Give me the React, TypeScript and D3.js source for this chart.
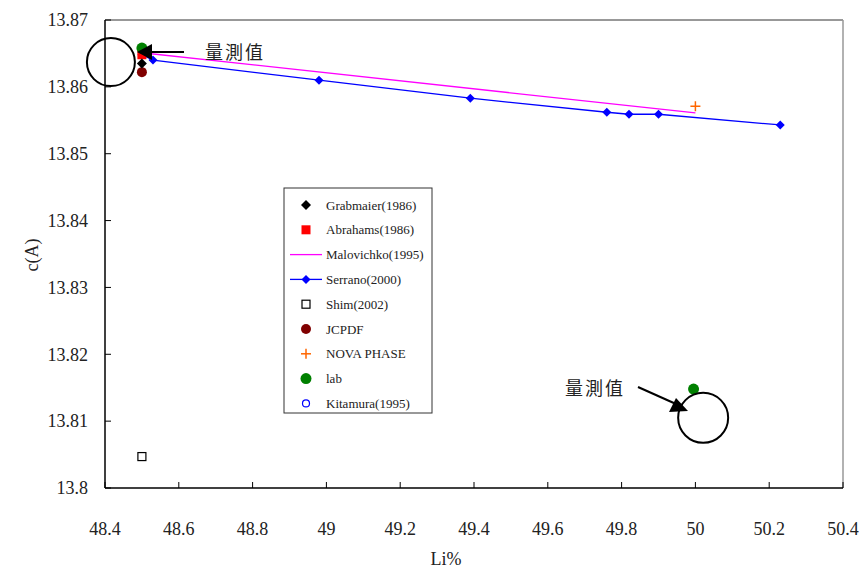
import React from "react";
import * as d3 from "d3";

// Li% vs c(A) lattice parameter
const grabmaier = [{ x: 48.5, y: 13.8635 }];
const abrahams = [{ x: 48.5, y: 13.8648 }];
const malovichko = [{ x: 48.5, y: 13.8651 }, { x: 50.0, y: 13.8561 }];
const serrano = [
  { x: 48.5, y: 13.8648 },
  { x: 48.53, y: 13.864 },
  { x: 48.98, y: 13.861 },
  { x: 49.39, y: 13.8583 },
  { x: 49.76, y: 13.8562 },
  { x: 49.82, y: 13.8559 },
  { x: 49.9, y: 13.8559 },
  { x: 50.23, y: 13.8543 },
];
const shim = [{ x: 48.5, y: 13.8047 }];
const jcpdf = [{ x: 48.5, y: 13.8622 }];
const novaPhase = [{ x: 50.0, y: 13.8571 }];
const lab = [{ x: 48.5, y: 13.8658 }, { x: 49.995, y: 13.8148 }];
const kitamura: { x: number; y: number }[] = [];

const xTicks = [48.4, 48.6, 48.8, 49, 49.2, 49.4, 49.6, 49.8, 50, 50.2, 50.4];
const yTicks = [13.8, 13.81, 13.82, 13.83, 13.84, 13.85, 13.86, 13.87];

const legendNames = [
  "Grabmaier(1986)", "Abrahams(1986)", "Malovichko(1995)", "Serrano(2000)",
  "Shim(2002)", "JCPDF", "NOVA PHASE", "lab", "Kitamura(1995)",
];

const W = 861, H = 569;
const left = 105, right = 843, top = 20, bottom = 488;
const serif = { fontFamily: "\"Liberation Serif\", \"DejaVu Serif\", serif" };
const cjk = { fontFamily: "\"Noto Sans CJK TC\", sans-serif" };

function Marker({ kind, x, y }: { kind: string; x: number; y: number }) {
  switch (kind) {
    case "diamondBlack":
      return <path d={`M${x},${y - 5}L${x + 5},${y}L${x},${y + 5}L${x - 5},${y}Z`} fill="#000" />;
    case "diamondBlue":
      return <path d={`M${x},${y - 4.5}L${x + 4.5},${y}L${x},${y + 4.5}L${x - 4.5},${y}Z`} fill="#0000ff" />;
    case "squareRed":
      return <rect x={x - 4.5} y={y - 4.5} width={9} height={9} fill="#ff0000" />;
    case "squareOpen":
      return <rect x={x - 4} y={y - 4} width={8} height={8} fill="#fff" stroke="#000" strokeWidth={1.2} />;
    case "circleDark":
      return <circle cx={x} cy={y} r={5} fill="#800000" />;
    case "circleGreen":
      return <circle cx={x} cy={y} r={5.5} fill="#008000" />;
    case "circleOpen":
      return <circle cx={x} cy={y} r={3.5} fill="#fff" stroke="#0000ff" strokeWidth={1.2} />;
    case "plus":
      return (
        <g stroke="#ff6600" strokeWidth={1.5}>
          <line x1={x - 5} x2={x + 5} y1={y} y2={y} />
          <line x1={x} x2={x} y1={y - 5} y2={y + 5} />
        </g>
      );
    default:
      return null;
  }
}

export default function App() {
  const x = d3.scaleLinear().domain([48.4, 50.4]).range([left, right]);
  const y = d3.scaleLinear().domain([13.8, 13.87]).range([bottom, top]);
  const line = d3.line<{ x: number; y: number }>().x(d => x(d.x)).y(d => y(d.y));

  const legendKinds = [
    "diamondBlack", "squareRed", "lineMagenta", "lineBlue", "squareOpen",
    "circleDark", "plus", "circleGreen", "circleOpen",
  ];

  // annotation anchors (data units)
  const c1 = { x: 48.416, y: 13.8637 };
  const c2 = { x: 50.021, y: 13.8105 };

  const lx = 284, ly = 188;

  return (
    <svg width={W} height={H} style={{ position: "absolute", left: 0, top: 0, background: "#fff" }}>
      {/* frame */}
      <line x1={left} x2={right} y1={top} y2={top} stroke="#333" strokeWidth={1} />
      <line x1={right} x2={right} y1={top} y2={bottom} stroke="#999" strokeWidth={1.5} />
      {/* axes */}
      <line x1={left} x2={right} y1={bottom} y2={bottom} stroke="#000" strokeWidth={1.5} />
      <line x1={left} x2={left} y1={top} y2={bottom} stroke="#000" strokeWidth={1.5} />
      {xTicks.map(t => (
        <g key={"x" + t}>
          <line x1={x(t)} x2={x(t)} y1={bottom} y2={bottom - 6} stroke="#000" />
          <text x={x(t)} y={535} textAnchor="middle" style={serif} fontSize={18} fill="#222">{t}</text>
        </g>
      ))}
      {yTicks.map(t => (
        <g key={"y" + t}>
          <line x1={left} x2={left + 6} y1={y(t)} y2={y(t)} stroke="#000" />
          <text x={88} y={y(t)} dy="0.35em" textAnchor="end" style={serif} fontSize={18} fill="#222">{t}</text>
        </g>
      ))}
      <text x={446} y={565} textAnchor="middle" style={serif} fontSize={18} fill="#222">Li%</text>
      <text transform={`translate(38,255) rotate(-90)`} textAnchor="middle" style={serif} fontSize={18} fill="#222">c(A)</text>

      {/* series */}
      <path d={line(malovichko) || ""} fill="none" stroke="#ff00ff" strokeWidth={1.3} />
      <path d={line(serrano) || ""} fill="none" stroke="#0000ff" strokeWidth={1.3} />
      {serrano.map((d, i) => <Marker key={"s" + i} kind="diamondBlue" x={x(d.x)} y={y(d.y)} />)}
      {abrahams.map((d, i) => <Marker key={"a" + i} kind="squareRed" x={x(d.x)} y={y(d.y)} />)}
      {shim.map((d, i) => <Marker key={"sh" + i} kind="squareOpen" x={x(d.x)} y={y(d.y)} />)}
      {novaPhase.map((d, i) => <Marker key={"n" + i} kind="plus" x={x(d.x)} y={y(d.y)} />)}
      {kitamura.map((d, i) => <Marker key={"k" + i} kind="circleOpen" x={x(d.x)} y={y(d.y)} />)}
      {lab.map((d, i) => <Marker key={"l" + i} kind="circleGreen" x={x(d.x)} y={y(d.y)} />)}
      {jcpdf.map((d, i) => <Marker key={"j" + i} kind="circleDark" x={x(d.x)} y={y(d.y)} />)}
      {grabmaier.map((d, i) => <Marker key={"g" + i} kind="diamondBlack" x={x(d.x)} y={y(d.y)} />)}

      {/* annotation top-left */}
      <circle cx={x(c1.x)} cy={y(c1.y)} r={24} fill="none" stroke="#000" strokeWidth={2} />
      <line x1={150} x2={184} y1={52} y2={52} stroke="#000" strokeWidth={2} />
      <path d="M137,52L152,44L152,60Z" fill="#000" />
      <text x={205} y={59} style={cjk} fontSize={18} fill="#222" letterSpacing={2}>量測值</text>

      {/* annotation bottom-right */}
      <circle cx={x(c2.x)} cy={y(c2.y)} r={25} fill="none" stroke="#000" strokeWidth={2} />
      <line x1={638} x2={676} y1={387} y2={404} stroke="#000" strokeWidth={2} />
      <path d="M676,398L669,412L688,411Z" fill="#000" />
      <text x={565} y={395} style={cjk} fontSize={18} fill="#222" letterSpacing={2}>量測值</text>

      {/* legend */}
      <rect x={lx} y={ly} width={148} height={225} fill="#fff" stroke="#333" strokeWidth={1} />
      {legendNames.map((name, i) => {
        const cy = 205 + i * 24.8;
        const kind = legendKinds[i];
        return (
          <g key={name}>
            {kind === "lineMagenta" && <line x1={290} x2={322} y1={cy} y2={cy} stroke="#ff00ff" strokeWidth={1.3} />}
            {kind === "lineBlue" && (
              <g>
                <line x1={290} x2={322} y1={cy} y2={cy} stroke="#0000ff" strokeWidth={1.3} />
                <Marker kind="diamondBlue" x={306} y={cy} />
              </g>
            )}
            {kind !== "lineMagenta" && kind !== "lineBlue" && <Marker kind={kind} x={306} y={cy} />}
            <text x={326} y={cy} dy="0.35em" style={serif} fontSize={13} fill="#222">{name}</text>
          </g>
        );
      })}
    </svg>
  );
}
